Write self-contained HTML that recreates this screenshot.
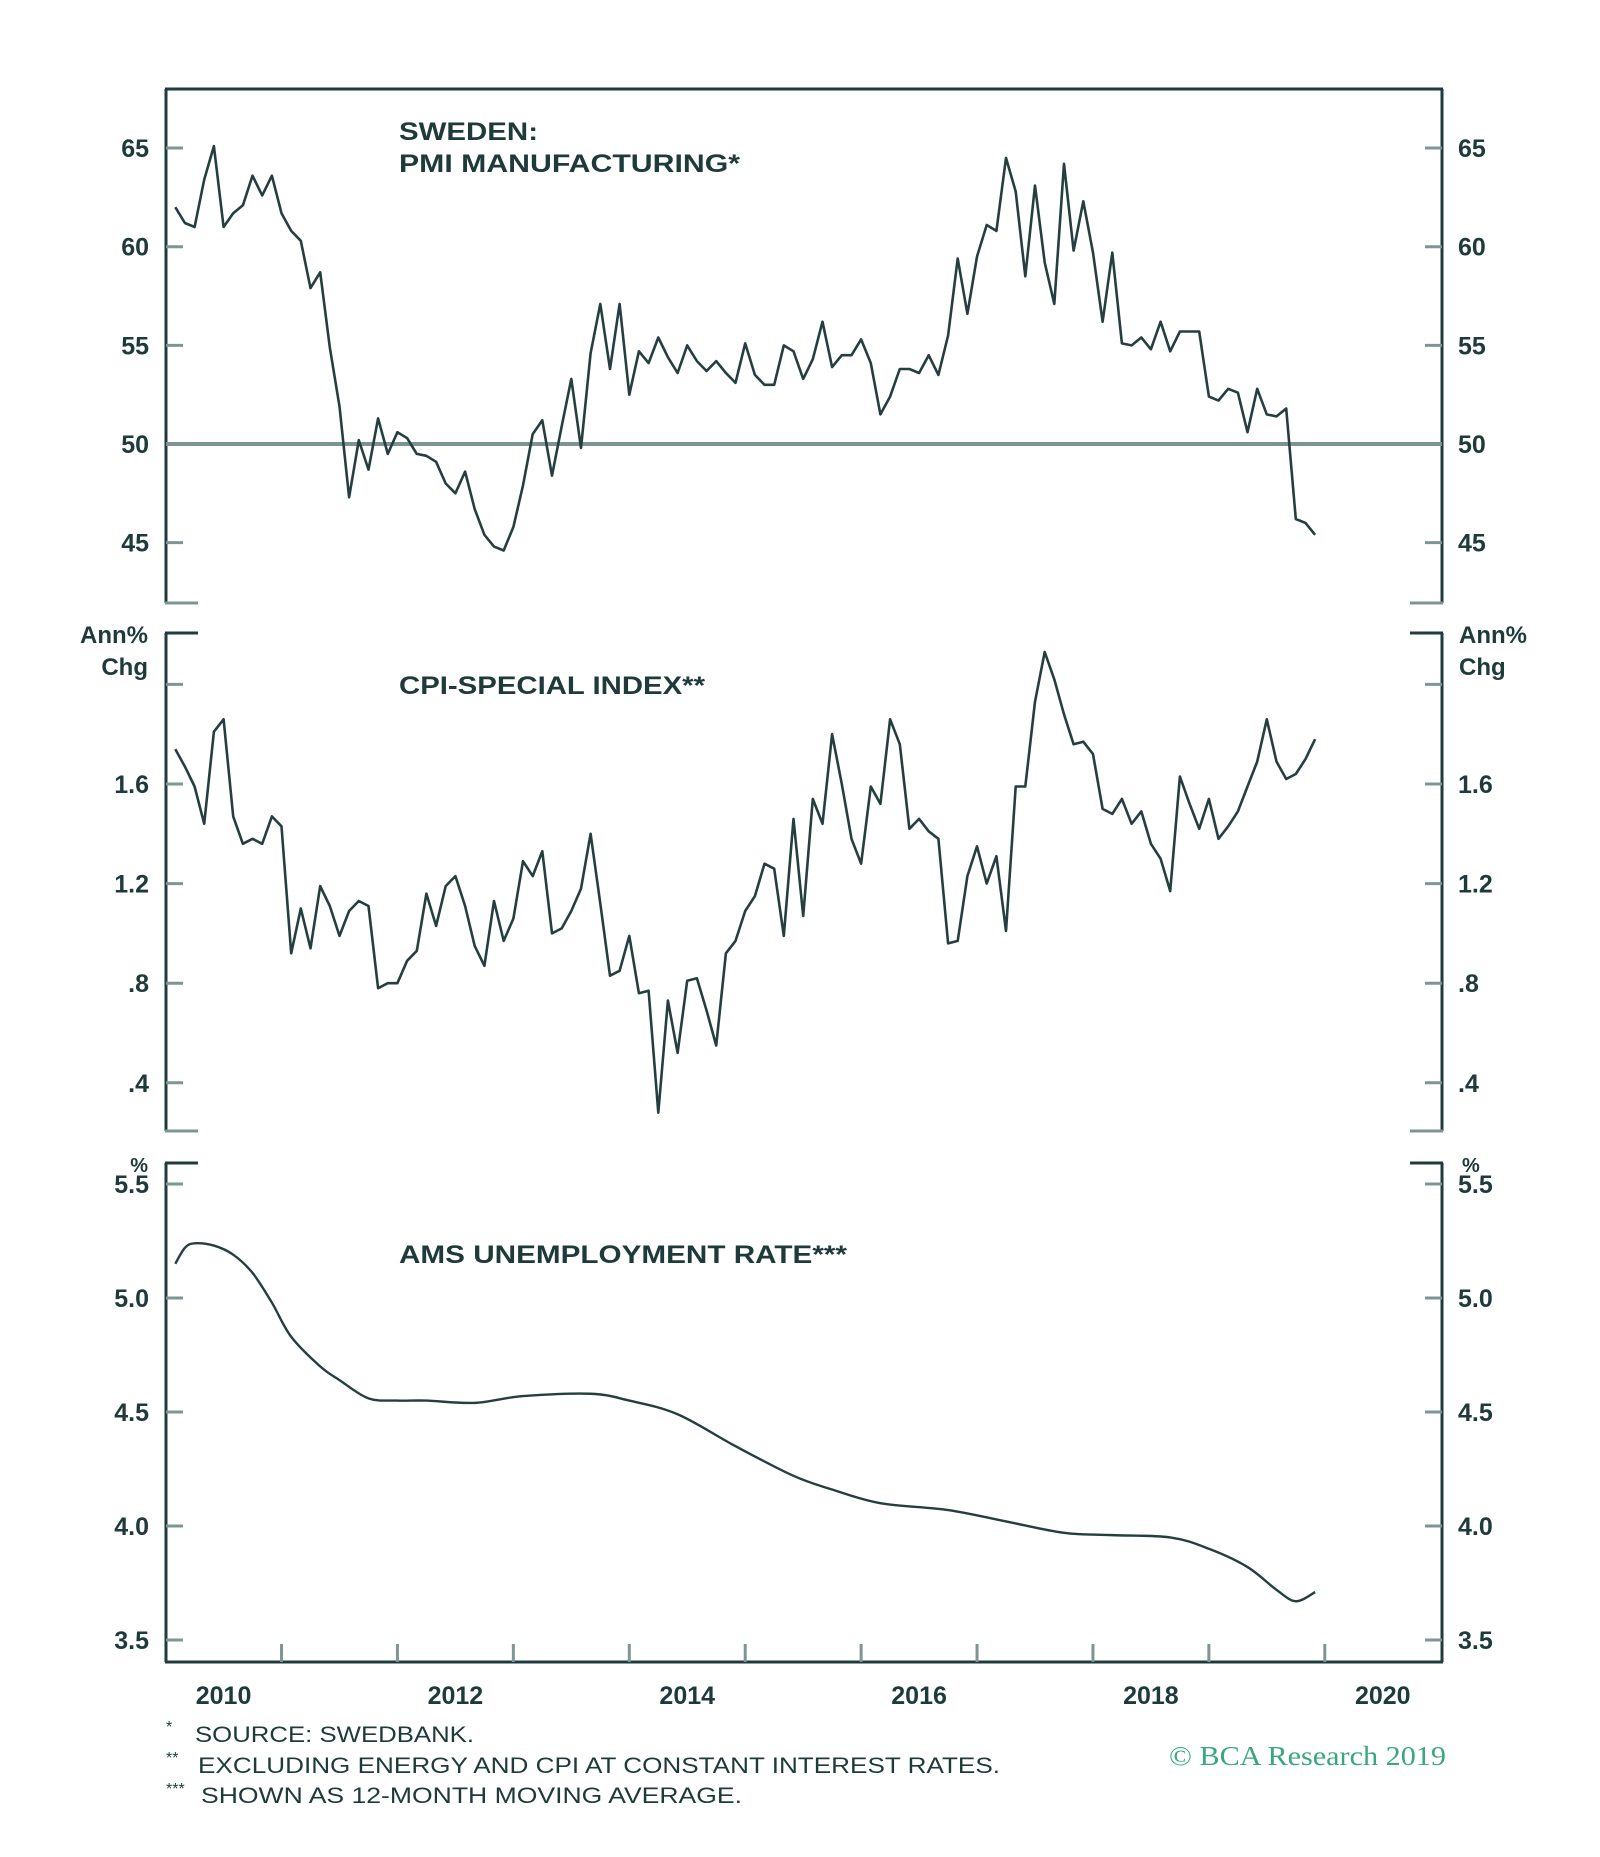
<!DOCTYPE html>
<html><head><meta charset="utf-8">
<style>
html,body{margin:0;padding:0;background:#fff;}
svg{display:block;}
text{font-family:"Liberation Sans","DejaVu Sans",sans-serif;fill:#1e3a3a;}
</style></head>
<body>
<svg id="chart" width="1600" height="1857" viewBox="0 0 1600 1857" xmlns="http://www.w3.org/2000/svg">
<g id="frame"></g>
<g id="series"></g>
<g id="labels">
<text x="399" y="140" font-size="25" font-weight="bold" textLength="139" lengthAdjust="spacingAndGlyphs">SWEDEN:</text>
<text x="399" y="172" font-size="25" font-weight="bold" textLength="341" lengthAdjust="spacingAndGlyphs">PMI MANUFACTURING*</text>
<text x="399" y="694" font-size="25" font-weight="bold" textLength="306" lengthAdjust="spacingAndGlyphs">CPI-SPECIAL INDEX**</text>
<text x="399" y="1263" font-size="25" font-weight="bold" textLength="448" lengthAdjust="spacingAndGlyphs">AMS UNEMPLOYMENT RATE***</text>
<text x="148" y="643" font-size="24" font-weight="bold" text-anchor="end">Ann%</text>
<text x="148" y="675" font-size="24" font-weight="bold" text-anchor="end">Chg</text>
<text x="1459" y="643" font-size="24" font-weight="bold">Ann%</text>
<text x="1459" y="675" font-size="24" font-weight="bold">Chg</text>
<text x="148" y="1172" font-size="20" font-weight="bold" text-anchor="end">%</text>
<text x="1462" y="1172" font-size="20" font-weight="bold">%</text>
<text x="166" y="1732" font-size="16">*</text>
<text x="166" y="1763" font-size="16">**</text>
<text x="166" y="1794" font-size="16">***</text>
<text x="195" y="1742" font-size="22" textLength="279" lengthAdjust="spacingAndGlyphs">SOURCE: SWEDBANK.</text>
<text x="198" y="1773" font-size="22" textLength="802" lengthAdjust="spacingAndGlyphs">EXCLUDING ENERGY AND CPI AT CONSTANT INTEREST RATES.</text>
<text x="201" y="1803" font-size="22" textLength="541" lengthAdjust="spacingAndGlyphs">SHOWN AS 12-MONTH MOVING AVERAGE.</text>
<text x="1169" y="1765" font-size="27" textLength="277" lengthAdjust="spacingAndGlyphs" style="font-family:'Liberation Serif',serif;fill:#3aa87e">© BCA Research 2019</text>
</g>
</svg>
<script>
// ---- data ----
const pmiStartMonth = 1;
const pmiValues = [62.0,61.2,61.0,63.4,65.1,61.0,61.7,62.1,63.6,62.6,63.6,61.7,60.8,60.3,57.9,58.7,54.9,51.9,47.3,50.2,48.7,51.3,49.5,50.6,50.3,49.5,49.4,49.1,48.0,47.5,48.6,46.7,45.4,44.8,44.6,45.8,47.9,50.5,51.2,48.4,50.9,53.3,49.8,54.6,57.1,53.8,57.1,52.5,54.7,54.1,55.4,54.4,53.6,55.0,54.2,53.7,54.2,53.6,53.1,55.1,53.5,53.0,53.0,55.0,54.7,
53.3,54.3,56.2,53.9,54.5,54.5,55.3,54.1,51.5,52.4,53.8,53.8,53.6,54.5,53.5,55.5,59.4,56.6,59.5,61.1,60.8,64.5,62.8,58.5,63.1,59.2,57.1,64.2,59.8,62.3,59.7,56.2,59.7,55.1,55.0,55.4,54.8,56.2,54.7,55.7,55.7,55.7,52.4,52.2,52.8,52.6,50.6,52.8,51.5,51.4,51.8,46.2,46.0,45.4];
const pmiTicks = [45,50,55,60,65];
const cpiStartMonth = 1;
const cpiValues = [1.74,1.67,1.59,1.44,1.81,1.86,1.47,1.36,1.38,1.36,1.47,1.43,0.92,1.10,0.94,1.19,1.11,0.99,1.09,1.13,1.11,0.78,0.80,0.80,0.89,0.93,1.16,1.03,1.19,1.23,1.11,0.95,0.87,1.13,0.97,1.06,1.29,1.23,1.33,1.00,1.02,1.09,1.18,1.40,1.12,0.83,0.85,0.99,0.76,0.77,0.28,0.73,0.52,0.81,0.82,0.69,0.55,0.92,0.97,1.09,1.15,1.28,1.26,0.99,1.46,
1.07,1.54,1.44,1.80,1.60,1.38,1.28,1.59,1.52,1.86,1.76,1.42,1.46,1.41,1.38,0.96,0.97,1.23,1.35,1.20,1.31,1.01,1.59,1.59,1.93,2.13,2.02,1.88,1.76,1.77,1.72,1.50,1.48,1.54,1.44,1.49,1.36,1.30,1.17,1.63,1.52,1.42,1.54,1.38,1.43,1.49,1.59,1.69,1.86,1.69,1.62,1.64,1.70,1.78];
const cpiTicks = [0.4,0.8,1.2,1.6,2.0];
const cpiTickLabels = [".4",".8","1.2","1.6",""];
const unempMonths = [1,2,3,5,7,9,11,13,16,18,21,24,27,32,37,44,48,53,59,65,69,74,81,87,93,98,104,108,112,115,117,119];
const unempValues = [5.15,5.22,5.24,5.23,5.19,5.11,4.98,4.83,4.70,4.64,4.56,4.55,4.55,4.54,4.57,4.58,4.55,4.49,4.35,4.22,4.16,4.10,4.07,4.02,3.97,3.96,3.95,3.90,3.82,3.72,3.67,3.71];
const unempTicks = [3.5,4.0,4.5,5.0,5.5];
const unempTickLabels = ["3.5","4.0","4.5","5.0","5.5"];
const yearTicks = [2011,2012,2013,2014,2015,2016,2017,2018,2019,2020];
const yearLabels = [2010,2012,2014,2016,2018,2020];

// ---- axes ----
const L=166, R=1442;
const xMonth = m => 165.6 + m*9.66;
const xYear = y => xMonth((y-2010)*12);
const yPmi = v => 444 - (v-50)*19.73;
const yCpi = v => 784 - (v-1.6)*249;
const yUn = v => 1298 - (v-5)*228;
const NS='http://www.w3.org/2000/svg';
const frame=document.getElementById('frame'), series=document.getElementById('series'), labels=document.getElementById('labels');
function mk(tag, attrs, parent){const e=document.createElementNS(NS,tag);for(const k in attrs)e.setAttribute(k,attrs[k]);parent.appendChild(e);return e;}
const dark='#1f3b3d', gray='#7f9495';

const panels=[
 {top:89,bot:603,ticks:pmiTicks,labs:pmiTicks.map(String),y:yPmi,name:'pmi',topBorder:true},
 {top:633,bot:1131,ticks:cpiTicks,labs:cpiTickLabels,y:yCpi,name:'cpi'},
 {top:1163,bot:1662,ticks:unempTicks,labs:unempTickLabels,y:yUn,name:'unemp',bottomBorder:true}
];
panels.forEach(p=>{
  let e=mk('line',{x1:L,y1:p.top,x2:L,y2:p.bot,stroke:dark,'stroke-width':3},frame);
  
  
  e=mk('line',{x1:R,y1:p.top,x2:R,y2:p.bot,stroke:dark,'stroke-width':3},frame);
  
  
  if(p.topBorder){e=mk('line',{x1:L-1,y1:p.top,x2:R+1,y2:p.top,stroke:dark,'stroke-width':3},frame);}
  else{mk('line',{x1:L-1,y1:p.top,x2:L+32,y2:p.top,stroke:dark,'stroke-width':3},frame);mk('line',{x1:R-32,y1:p.top,x2:R+1,y2:p.top,stroke:dark,'stroke-width':3},frame);}
  if(p.bottomBorder){e=mk('line',{x1:L-1,y1:p.bot,x2:R+1,y2:p.bot,stroke:dark,'stroke-width':3},frame);}
  else{mk('line',{x1:L-1,y1:p.bot,x2:L+32,y2:p.bot,stroke:gray,'stroke-width':3},frame);mk('line',{x1:R-32,y1:p.bot,x2:R+1,y2:p.bot,stroke:gray,'stroke-width':3},frame);}
  p.ticks.forEach((t,i)=>{
    const yy=p.y(t);
    mk('line',{x1:L,y1:yy,x2:L+17,y2:yy,stroke:gray,'stroke-width':3},frame);
    mk('line',{x1:R-17,y1:yy,x2:R,y2:yy,stroke:gray,'stroke-width':3},frame);
    if(p.labs[i]){
      let t1=mk('text',{x:149,y:yy+9,'font-size':25,'font-weight':'bold','text-anchor':'end'},labels);
      t1.textContent=p.labs[i];
      
      
      let t2=mk('text',{x:1458,y:yy+9,'font-size':25,'font-weight':'bold'},labels);
      t2.textContent=p.labs[i];
      
      
    }
  });
});
// 50 reference line
let ref=mk('line',{x1:L,y1:yPmi(50),x2:R,y2:yPmi(50),stroke:'#7c9293','stroke-width':4},frame);


// x ticks
yearTicks.forEach(y=>{
  const t=mk('line',{x1:xYear(y),y1:1644,x2:xYear(y),y2:1662,stroke:gray,'stroke-width':3},frame);
  
  
});
yearLabels.forEach(y=>{
  const t=mk('text',{x:xYear(y+0.5),y:1704,'font-size':25,'font-weight':'bold','text-anchor':'middle'},labels);
  t.textContent=String(y);
  
  
});
// series
function poly(vals,start,yf,name){
  const pts=vals.map((v,i)=>xMonth(start+i).toFixed(1)+','+yf(v).toFixed(1)).join(' ');
  const e=mk('polyline',{points:pts,fill:'none',stroke:'#253f41','stroke-width':2.6,'stroke-linejoin':'round'},series);
  
  
}
poly(pmiValues,pmiStartMonth,yPmi,'pmi-line');
poly(cpiValues,cpiStartMonth,yCpi,'cpi-line');
// smooth unemployment curve (Catmull-Rom)
(function(){
  const P=unempMonths.map((m,i)=>[xMonth(m),yUn(unempValues[i])]);
  let d='M'+P[0][0]+','+P[0][1];
  for(let i=0;i<P.length-1;i++){
    const p0=P[Math.max(0,i-1)],p1=P[i],p2=P[i+1],p3=P[Math.min(P.length-1,i+2)];
    const c1=[p1[0]+(p2[0]-p0[0])/6,p1[1]+(p2[1]-p0[1])/6];
    const c2=[p2[0]-(p3[0]-p1[0])/6,p2[1]-(p3[1]-p1[1])/6];
    d+=` C${c1[0]},${c1[1]} ${c2[0]},${c2[1]} ${p2[0]},${p2[1]}`;
  }
  const e=mk('path',{d:d,fill:'none',stroke:'#253f41','stroke-width':2.4},series);
  
  
})();
</script>
</body></html>
